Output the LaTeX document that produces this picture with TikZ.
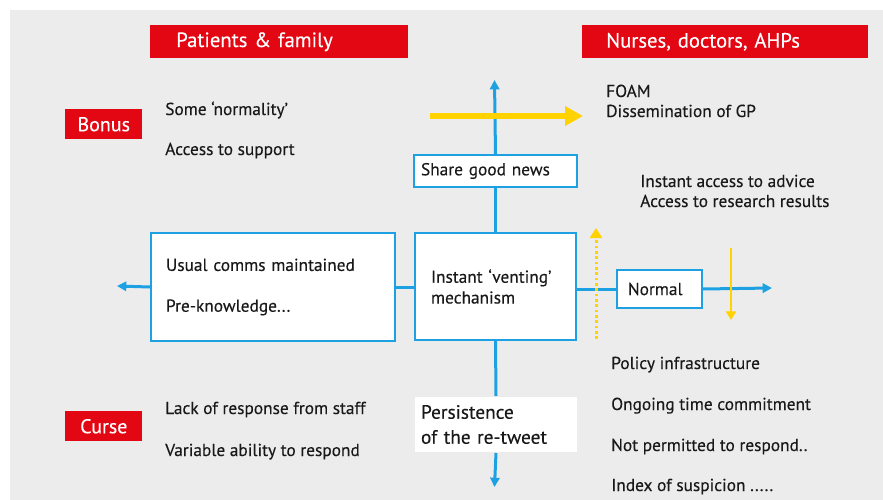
\documentclass[tikz,border=0pt]{standalone}
\usepackage{fontspec}
\setmainfont{PT Sans}[UprightFeatures={FakeBold=0.25}]
\usepackage{tikz}
\usetikzlibrary{positioning, arrows.meta}
\definecolor{rojo}{RGB}{227, 6, 19}
\definecolor{azul}{RGB}{29, 161, 226}
\definecolor{amarillo}{RGB}{255, 210, 0}
\definecolor{gris}{RGB}{236, 236, 236}
\definecolor{tinta}{RGB}{25, 25, 25}
\tikzset{
    head/.style={fill=rojo, text=white, font=\fontsize{15.5}{19}\selectfont, anchor=north west, minimum height=24.75pt, align=left},
    tag/.style={fill=rojo, text=white, font=\fontsize{15}{18}\selectfont, anchor=north west, minimum width=57.75pt, minimum height=22.5pt, inner sep=0pt},
    caja/.style={draw=azul, fill=white, line width=1.5pt, text=tinta, font=\fontsize{13}{15.6}\selectfont, anchor=north west, align=left},
    txt/.style={text=tinta, font=\fontsize{13}{15.6}\selectfont, anchor=base west, inner sep=0pt},
    conn/.style={azul, line width=2.25pt},
    tip/.style={-{Triangle[length=7pt, width=7pt]}},
    yarr/.style={amarillo, line width=2.25pt},
}
\begin{document}
\begin{tikzpicture}[x=0.75pt, y=-0.75pt]
        \useasboundingbox (0,0) rectangle (883,500);
        \fill[gris] (10,10) rectangle (883,500);

        % red headings and tags
        \node[head, inner xsep=19.5pt, text width=154.5pt] (pat) at (150,25) {Patients \& family};
        \node[head, inner xsep=18pt, text width=178.5pt] (nur) at (582,25) {Nurses, doctors, AHPs};
        \node[tag] (bon) at (65,109) {Bonus};
        \node[tag] (cur) at (65,411) {Curse};

        % boxes
        \node[caja, inner xsep=5.25pt, text width=111.75pt, minimum height=24pt] (share) at (413,154) {Share good news};
        \node[caja, inner xsep=11.25pt, text width=160.5pt, minimum height=81pt] (usual) at (150,232) {Usual comms maintained\\[15pt]Pre-knowledge...};
        \node[caja, inner xsep=12pt, text width=96.75pt, minimum height=80.25pt] (vent) at (414,232) {Instant ‘venting’\\mechanism};
        \node[caja, inner xsep=8.25pt, text width=47.25pt, minimum height=28.5pt] (norm) at (616,269) {Normal};
        \node[caja, draw=none, inner xsep=4.5pt, text width=112.5pt, minimum height=41.25pt, font=\fontsize{14.5}{18.75}\selectfont] (pers) at (414,396) {Persistence\\of the re-tweet};

        % loose texts
        \node[txt] (b1) at (165,115) {Some ‘normality’};
        \node[txt] (b2) at (165,155) {Access to support};
        \node[txt] (c1) at (165,414) {Lack of response from staff};
        \node[txt] (c2) at (165,456) {Variable ability to respond};
        \node[txt] (n1) at (606,97) {FOAM};
        \node[txt] (n2) at (606,117) {Dissemination of GP};
        \node[txt] (n3) at (640,187) {Instant access to advice};
        \node[txt] (n4) at (640,207) {Access to research results};
        \node[txt] (n5) at (611,369) {Policy infrastructure};
        \node[txt] (n6) at (611,410) {Ongoing time commitment};
        \node[txt] (n7) at (611,451) {Not permitted to respond..};
        \node[txt] (n8) at (611,491) {Index of suspicion .....};

        \coordinate (upEnd) at (494.5,80);
        \coordinate (downEnd) at (494.5,487);
        \coordinate (leftEnd) at (117,286);
        \coordinate (rightEnd) at (772,288);
        \coordinate (yStart) at (430,116);
        \coordinate (yEnd) at (583,116);
        \coordinate (dotStart) at (596,339);
        \coordinate (dotEnd) at (596,228);
        \coordinate (dnStart) at (731,248);
        \coordinate (dnEnd) at (731,320);

        \draw[conn, tip] (share.north) -- (upEnd);
        \draw[conn] (share.south) -- (vent.north);
        \draw[conn] (vent.south) -- (pers.north);
        \draw[conn, tip] (pers.south) -- (downEnd);
        \draw[conn, tip] (usual.west) -- (leftEnd);
        \draw[conn] (usual.east) -- (usual.east -| vent.west);
        \draw[conn] (vent.east |- norm.west) -- (norm.west);
        \draw[conn, tip] (norm.east) -- (rightEnd);

        \draw[amarillo, line width=5pt, -{Triangle[length=13.5pt, width=14pt]}] (yStart) -- (yEnd);
        \draw[yarr, dash pattern=on 2pt off 2pt, -{Triangle[length=7.5pt, width=9pt]}] (dotStart) -- (dotEnd);
        \draw[yarr, line width=2pt, -{Triangle[length=6.5pt, width=7.5pt]}] (dnStart) -- (dnEnd);
\end{tikzpicture}
\end{document}
